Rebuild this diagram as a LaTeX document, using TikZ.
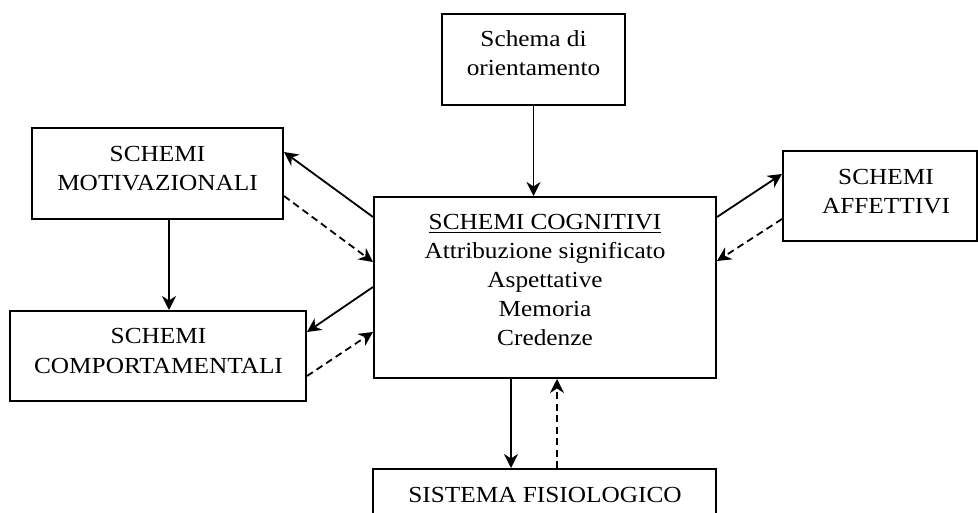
\documentclass[tikz,border=0pt]{standalone}
\usepackage{fontspec}
\setmainfont[FakeStretch=1.1]{Liberation Serif}
\usetikzlibrary{arrows.meta,calc}

\newcommand{\boxfont}{\fontsize{23}{29}\selectfont}

\tikzset{
  schemabox/.style={draw, line width=2pt, rectangle, inner sep=0pt,
    minimum width=#1},
  schemabox/.default=100pt,
  boxtext/.style={anchor=base, inner sep=0pt, font=\boxfont},
  link/.style={line width=1.8pt, -{Stealth[length=14pt,width=14pt,inset=4.5pt]}},
  backlink/.style={link, dash pattern=on 7pt off 4.5pt},
}

\newcommand{\lines}[1]{\begin{tabular}[t]{@{}c@{}}#1\end{tabular}}

\begin{document}
\begin{tikzpicture}[x=1pt,y=-1pt]
  \useasboundingbox (0,0) rectangle (978,513);
  \clip (0,0) rectangle (978,513);

  % boxes
  \node[schemabox=183pt, minimum height=91pt] (ori) at (533.5,59.5) {};
  \node[schemabox=342pt, minimum height=181pt] (cog) at (545,287.5) {};
  \node[schemabox=251pt, minimum height=91pt] (mot) at (157.5,173.5) {};
  \node[schemabox=296pt, minimum height=90pt] (com) at (158,356) {};
  \node[schemabox=194pt, minimum height=90pt] (aff) at (880,196) {};
  \node[schemabox=343pt, minimum height=91pt] (fis) at (544.5,514.5) {};

  % texts
  \node[boxtext] (oritxt) at (533.5,47) {\lines{Schema di\\orientamento}};
  \node[boxtext] (cogtxt) at (545,230)
    {\lines{\underline{SCHEMI COGNITIVI}\\Attribuzione significato\\Aspettative\\Memoria\\Credenze}};
  \node[boxtext] (mottxt) at (157.5,162) {\lines{SCHEMI\\MOTIVAZIONALI}};
  \node[boxtext] (comtxt) at (158.5,344) {\lines{SCHEMI\\COMPORTAMENTALI}};
  \node[boxtext] (afftxt) at (886,185) {\lines{SCHEMI\\AFFETTIVI}};
  \node[boxtext] (fistxt) at (545,502) {SISTEMA FISIOLOGICO};

  % end points of the vertical connectors
  \coordinate (motout) at ($(mot.south)+(11.5,0)$);
  \coordinate (cogout) at ($(cog.south)+(-34,0)$);
  \coordinate (fisout) at ($(fis.north)+(12.5,0)$);

  % connectors
  \draw[link] (ori.south) -- (ori.south |- cog.north);

  \draw[link] ($(cog.north west)+(0,21)$) -- ($(mot.north east)+(0,25)$);
  \draw[backlink] ($(mot.north east)+(0,69)$) -- ($(cog.north west)+(0,66)$);

  \draw[link] (motout) -- (motout |- com.north);

  \draw[link] ($(cog.north west)+(0,91)$) -- ($(com.north east)+(0,22)$);
  \draw[backlink] ($(com.north east)+(0,66)$) -- ($(cog.north west)+(0,136)$);

  \draw[link] ($(cog.north east)+(0,21)$) -- ($(aff.north west)+(0,24)$);
  \draw[backlink] ($(aff.north west)+(0,69)$) -- ($(cog.north east)+(0,65)$);

  \draw[link] (cogout) -- (cogout |- fis.north);
  \draw[backlink] (fisout) -- (fisout |- cog.south);
\end{tikzpicture}
\end{document}
